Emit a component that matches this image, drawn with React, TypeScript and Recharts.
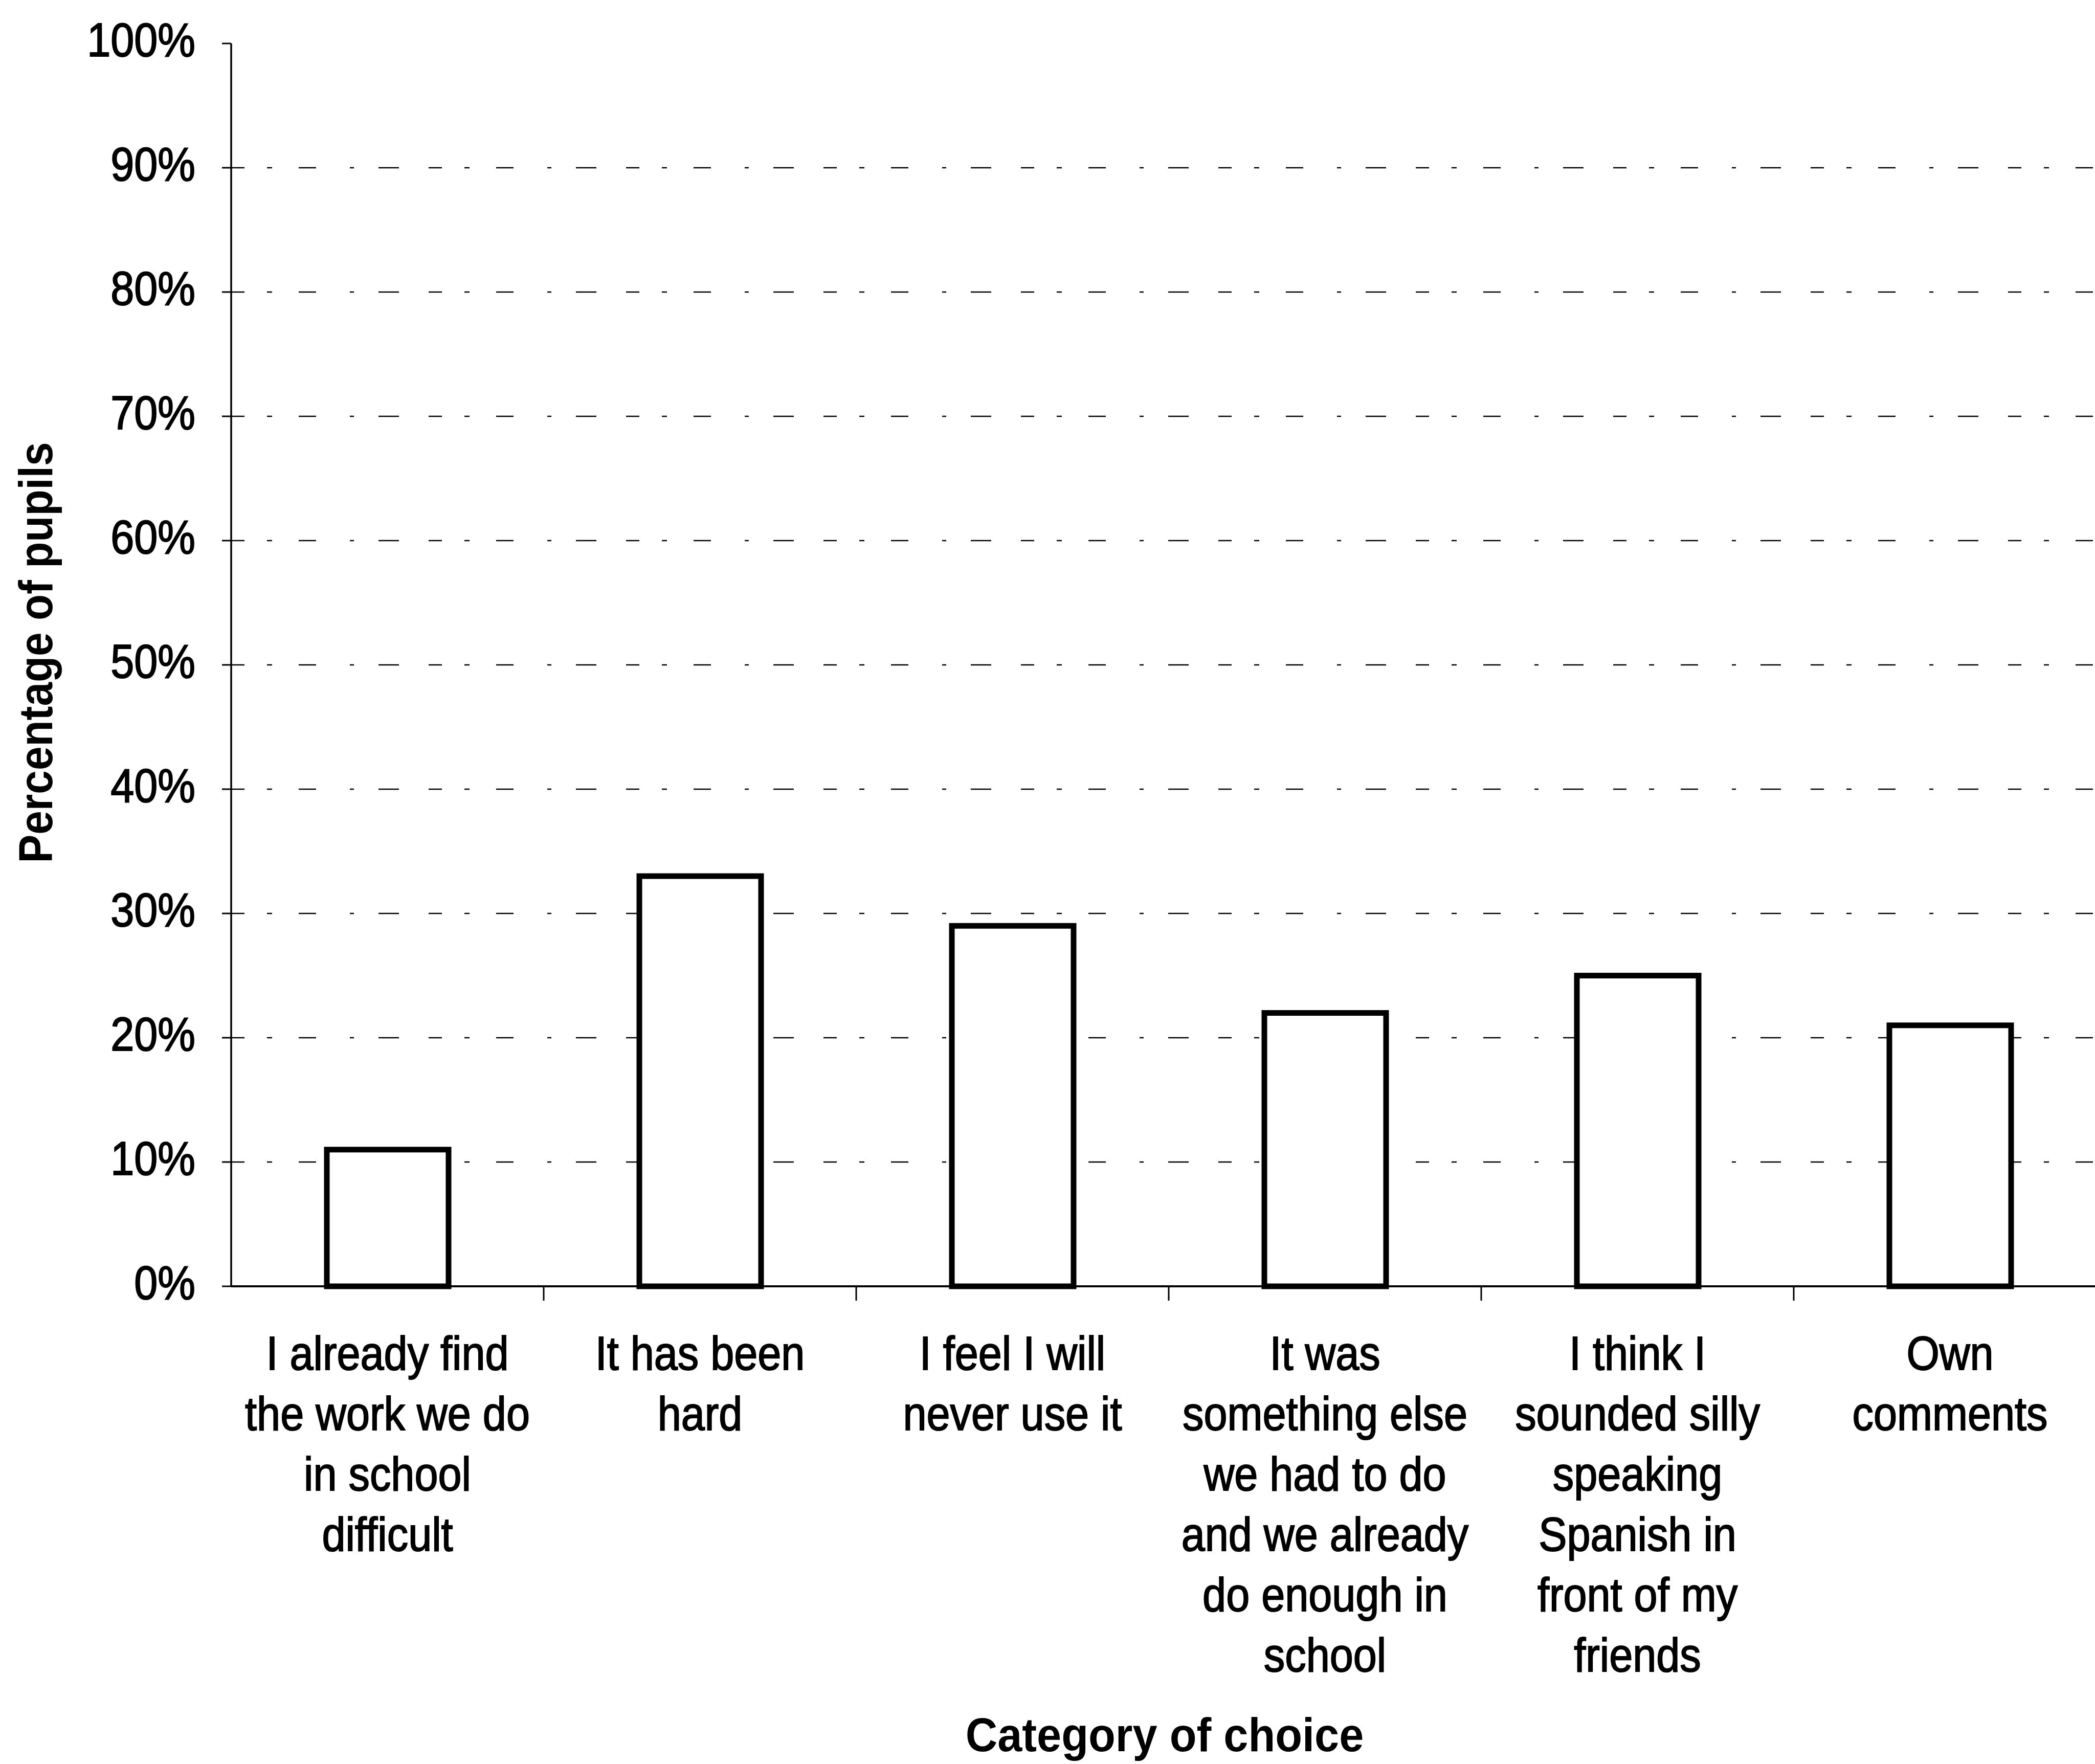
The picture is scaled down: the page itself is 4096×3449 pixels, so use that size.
import { Bar, BarChart, CartesianGrid, XAxis, YAxis } from "recharts";

// survey answers, one bar per reason
const categories = [
  "I already find\nthe work we do\nin school\ndifficult",
  "It has been\nhard",
  "I feel I will\nnever use it",
  "It was\nsomething else\nwe had to do\nand we already\ndo enough in\nschool",
  "I think I\nsounded silly\nspeaking\nSpanish in\nfront of my\nfriends",
  "Own\ncomments",
];
const pupilShare = [11, 33, 29, 22, 25, 21];
const percentTicks = [0, 10, 20, 30, 40, 50, 60, 70, 80, 90, 100];
const gridValues = [10, 20, 30, 40, 50, 60, 70, 80, 90];

const data = categories.map((name, i) => ({ name, share: pupilShare[i] }));

// layout
const CHART_W = 4130;
const CHART_H = 3449;
const Y_AXIS_W = 452;
const PLOT_TOP = 85;
const PLOT_BOTTOM = 2515;
const X_AXIS_H = 700;
const BAND = (CHART_W - Y_AXIS_W - 12) / categories.length;

const FONT = '"Liberation Sans", Arial, Helvetica, sans-serif';
const INK = "#000";

function PercentTick({ x, y, payload }: any) {
  return (
    <text
      transform={`translate(${x} ${y + 25}) scale(0.9 1)`}
      textAnchor="end"
      fontFamily={FONT}
      fontSize={92}
      fill={INK}
      stroke={INK}
      strokeWidth={2}
    >
      {`${payload.value}%`}
    </text>
  );
}

function CategoryTick({ x, payload, index }: any) {
  const lines = String(payload.value).split("\n");
  const boundary = x + BAND / 2;
  return (
    <g>
      {index < categories.length - 1 && (
        <line
          x1={boundary}
          x2={boundary}
          y1={PLOT_BOTTOM}
          y2={PLOT_BOTTOM + 28}
          stroke={INK}
          strokeWidth={3}
        />
      )}
      <text
        transform={`translate(${x} ${PLOT_BOTTOM + 163}) scale(0.9 1)`}
        textAnchor="middle"
        fontFamily={FONT}
        fontSize={92}
        fill={INK}
        stroke={INK}
        strokeWidth={2}
      >
        {lines.map((line, i) => (
          <tspan key={i} x={0} dy={i === 0 ? 0 : 118}>
            {line}
          </tspan>
        ))}
      </text>
    </g>
  );
}

function XTitle() {
  return (
    <text
      transform="translate(2277 3424) scale(0.93 1)"
      textAnchor="middle"
      fontFamily={FONT}
      fontWeight="bold"
      fontSize={93}
      fill={INK}
    >
      Category of choice
    </text>
  );
}

function YTitle() {
  return (
    <text
      transform="translate(102 1276) rotate(-90) scale(0.9 1)"
      textAnchor="middle"
      fontFamily={FONT}
      fontWeight="bold"
      fontSize={93}
      fill={INK}
    >
      Percentage of pupils
    </text>
  );
}

export default function App() {
  return (
    <div
      style={{
        position: "absolute",
        left: 0,
        top: 0,
        width: 4096,
        height: 3449,
        overflow: "hidden",
        background: "#fff",
      }}
    >
      <BarChart
        width={CHART_W}
        height={CHART_H}
        data={data}
        margin={{ top: PLOT_TOP, right: 12, bottom: CHART_H - PLOT_BOTTOM - X_AXIS_H, left: 0 }}
        barCategoryGap={0}
      >
        <CartesianGrid
          horizontal
          vertical={false}
          horizontalValues={gridValues}
          stroke={INK}
          strokeWidth={2.5}
          strokeDasharray="26 44 10 52 34 66 8 48 40 58"
        />
        <XAxis
          dataKey="name"
          interval={0}
          height={X_AXIS_H}
          tickSize={0}
          tickMargin={0}
          tickLine={false}
          axisLine={{ stroke: INK, strokeWidth: 4 }}
          tick={<CategoryTick />}
          label={<XTitle />}
        />
        <YAxis
          type="number"
          domain={[0, 100]}
          ticks={percentTicks}
          width={Y_AXIS_W}
          tickSize={18}
          tickMargin={52}
          tickLine={{ stroke: INK, strokeWidth: 3 }}
          axisLine={{ stroke: INK, strokeWidth: 3.5 }}
          tick={<PercentTick />}
          label={<YTitle />}
        />
        <Bar
          dataKey="share"
          fill="#fff"
          stroke={INK}
          strokeWidth={11}
          barSize={238}
          isAnimationActive={false}
        />
      </BarChart>
    </div>
  );
}
